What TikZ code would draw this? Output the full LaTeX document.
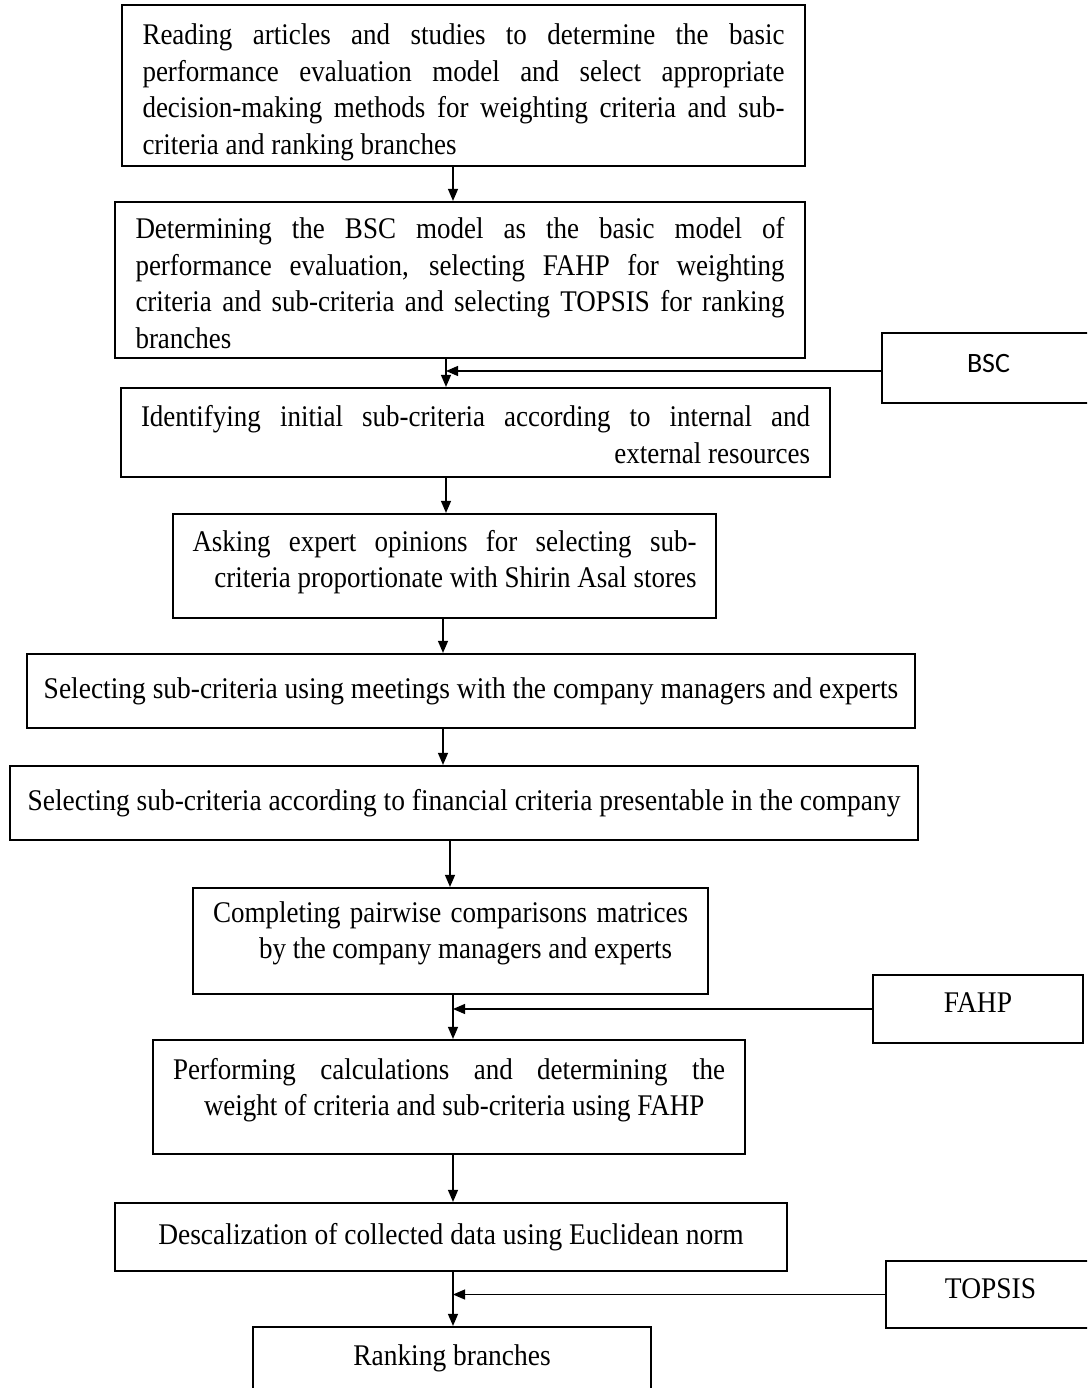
\documentclass[tikz,border=0pt]{standalone}
\usepackage{fontspec}
\setmainfont{Liberation Serif}[FakeStretch=0.90]
\newfontfamily\oneline{Liberation Serif}[FakeStretch=0.915]
\newfontfamily\sansf{Carlito}
\usetikzlibrary{arrows.meta}
\newcommand{\jl}[2]{\makebox[#1pt][s]{#2}}
\newcommand{\rl}[2]{\makebox[#1pt][r]{#2}}
\newcommand{\lft}[2]{\makebox[#1pt][l]{#2}}
\begin{document}
\begin{tikzpicture}[x=1pt,y=-1pt,
  frame/.style={draw, line width=2.2pt, inner sep=0pt},
  txt/.style={inner sep=0pt, align=left, font=\fontsize{30}{36.5}\selectfont},
  txt1/.style={inner sep=0pt, align=center, font=\oneline\fontsize{30}{36.5}\selectfont},
  arr/.style={-{Triangle[length=12pt,width=10pt]}, line width=1.2pt}]
\clip (0,0) rectangle (1087,1388);
\fill[white] (0,0) rectangle (1087,1388);
% frames
\node[frame, minimum width=683, minimum height=161] (b1) at (463.5,85.5) {};
\node[frame, minimum width=690, minimum height=156] (b2) at (460,280) {};
\node[frame, minimum width=709, minimum height=89] (b3) at (475.5,432.5) {};
\node[frame, minimum width=543, minimum height=104] (b4) at (444.5,566) {};
\node[frame, minimum width=888, minimum height=74] (b5) at (471,691) {};
\node[frame, minimum width=908, minimum height=74] (b6) at (464,803) {};
\node[frame, minimum width=515, minimum height=106] (b7) at (450.5,941) {};
\node[frame, minimum width=592, minimum height=114] (b8) at (449,1097) {};
\node[frame, minimum width=672, minimum height=68] (b9) at (451,1237) {};
\node[frame, minimum width=398, minimum height=68] (b10) at (452,1361) {};
\node[frame, minimum width=213, minimum height=70] (bsc) at (988.5,368) {};
\node[frame, minimum width=210, minimum height=68] (fahp) at (978,1009) {};
\node[frame, minimum width=209, minimum height=67] (topsis) at (990.5,1294.5) {};
% texts
\node[txt] (t1) at ([yshift=-7pt]b1.center)
 {\jl{642}{Reading articles and studies to determine the basic}\\
  \jl{642}{performance evaluation model and select appropriate}\\
  \jl{642}{decision-making methods for weighting criteria and sub-}\\
  \lft{642}{criteria and ranking branches}};
\node[txt] (t2) at ([yshift=-3pt]b2.center)
 {\jl{649}{Determining the BSC model as the basic model of}\\
  \jl{649}{performance evaluation, selecting FAHP for weighting}\\
  \jl{649}{criteria and sub-criteria and selecting TOPSIS for ranking}\\
  \lft{649}{branches}};
\node[txt] (t3) at ([yshift=-2pt]b3.center)
 {\jl{669}{Identifying initial sub-criteria according to internal and}\\
  \rl{669}{external resources}};
\node[txt] (t4) at ([yshift=4pt]b4.center)
 {\jl{504}{Asking expert opinions for selecting sub-}\\
  \rl{504}{criteria proportionate with Shirin Asal stores}};
\node[txt1] (t5) at (b5.center)
 {Selecting sub-criteria using meetings with the company managers and experts};
\node[txt1] (t6) at (b6.center)
 {Selecting sub-criteria according to financial criteria presentable in the company};
\node[txt] (t7) at ([yshift=7.5pt]b7.center)
 {\jl{475}{Completing pairwise comparisons matrices}\\
  \lft{475}{\hspace*{46pt}by the company managers and experts}};
\node[txt] (t8) at ([yshift=7pt]b8.center)
 {\jl{552}{Performing calculations and determining the}\\
  \lft{552}{\hspace*{31pt}weight of criteria and sub-criteria using FAHP}};
\node[txt1] (t9) at (b9.center)
 {Descalization of collected data using Euclidean norm};
\node[txt1] (t10) at ([yshift=3pt]b10.center) {Ranking branches};
\node[txt1, font=\sansf\fontsize{28}{32}\selectfont] (tbsc) at ([yshift=4pt]bsc.center) {BSC};
\node[txt1] (tfahp) at ([yshift=6pt]fahp.center) {FAHP};
\node[txt1] (ttopsis) at ([yshift=6pt]topsis.center) {TOPSIS};
% arrow columns
\coordinate (c1) at (453,0);
\coordinate (c2) at (446,0);
\coordinate (c4) at (443,0);
\coordinate (c6) at (450,0);
\coordinate (c7) at (453,0);
\coordinate (bscout) at ([yshift=-3pt]bsc.west);
\draw[arr] (b1.south -| c1) -- (b2.north -| c1);
\draw[arr] (b2.south -| c2) -- (b3.north -| c2);
\draw[arr] (bscout) -- (c2 |- bscout);
\draw[arr] (b3.south -| c2) -- (b4.north -| c2);
\draw[arr] (b4.south -| c4) -- (b5.north -| c4);
\draw[arr] (b5.south -| c4) -- (b6.north -| c4);
\draw[arr] (b6.south -| c6) -- (b7.north -| c6);
\draw[arr] (b7.south -| c7) -- (b8.north -| c7);
\draw[arr] (fahp.west) -- (c7 |- fahp.west);
\draw[arr] (b8.south -| c7) -- (b9.north -| c7);
\draw[arr] (b9.south -| c7) -- (b10.north -| c7);
\draw[arr] (topsis.west) -- (c7 |- topsis.west);
\end{tikzpicture}
\end{document}
